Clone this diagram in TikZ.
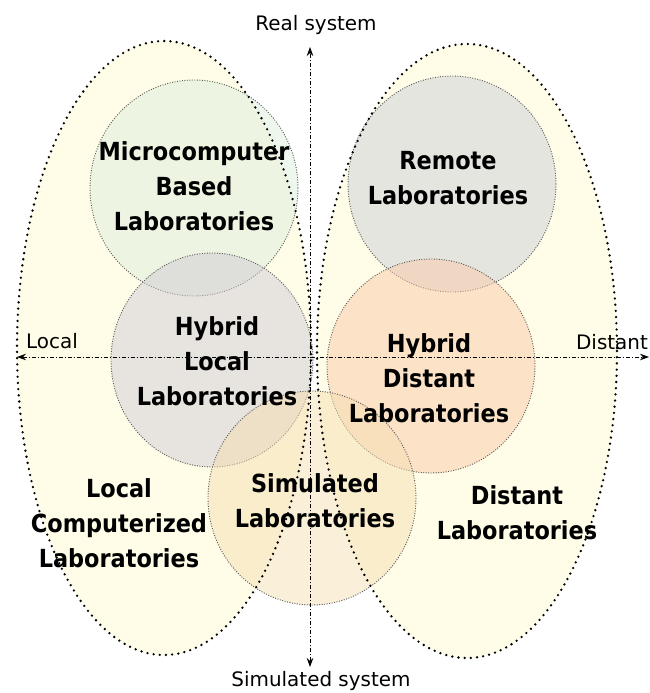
\documentclass[tikz,border=0pt]{standalone}
\usepackage{fontspec}
\setmainfont{DejaVu Sans}
\newfontfamily\condfont{DejaVuSansCondensed}[Extension=.ttf,BoldFont=DejaVuSansCondensed-Bold]
\usepackage{tikz}
\usetikzlibrary{positioning,arrows.meta}

\definecolor{zoneyellow}{RGB}{255,253,232}
\definecolor{microcol}{RGB}{221,239,222}
\definecolor{remotecol}{RGB}{205,207,218}
\definecolor{hlocalcol}{RGB}{209,203,214}
\definecolor{hdistcol}{RGB}{251,203,168}
\definecolor{simcol}{RGB}{245,223,178}

\begin{document}
\begin{tikzpicture}[x=1bp,y=-1bp,
		zone/.style={line width=2.6bp, line cap=round, dash pattern=on 0pt off 6.2bp},
		lab/.style={fill opacity=0.5, draw opacity=1, draw=black!65, line width=0.9bp, dash pattern=on 1bp off 1.5bp},
		labtext/.style={align=center, inner sep=0pt, font=\condfont\bfseries\fontsize{25}{35}\selectfont},
		axis/.style={line width=0.8bp, dash pattern=on 4bp off 2bp on 1bp off 2bp, {Stealth[length=9pt,width=6.5pt]}-{Stealth[length=9pt,width=6.5pt]}},
		axtext/.style={inner sep=0pt, font=\fontsize{20}{24}\selectfont}]
		\useasboundingbox (0,0) rectangle (650,693);
		
		% local and distant zones
		\fill[zoneyellow] (164,348) ellipse [x radius=147, y radius=307];
		\fill[zoneyellow] (467,351) ellipse [x radius=150, y radius=307];
		
		% laboratory circles
		\filldraw[lab, fill=microcol] (194,188) ellipse [x radius=104, y radius=108];
		\filldraw[lab, fill=remotecol] (452,184) ellipse [x radius=104, y radius=108];
		\filldraw[lab, fill=hlocalcol] (212,360) ellipse [x radius=101, y radius=107];
		\filldraw[lab, fill=hdistcol] (431,366) ellipse [x radius=104, y radius=107];
		\filldraw[lab, fill=simcol] (312,498) ellipse [x radius=104, y radius=107];
		
		\draw[zone] (164,348) ellipse [x radius=147, y radius=307];
		\draw[zone] (467,351) ellipse [x radius=150, y radius=307];
		
		% axes
		\coordinate (real) at (310,47);
		\coordinate (sim) at (310,667);
		\coordinate (loc) at (17,357);
		\coordinate (dist) at (649,357);
		\draw[axis] (sim)--(real);
		\draw[axis] (loc)--(dist);
		
		\node[axtext] (realtxt) at (316,25) {Real system};
		\node[axtext] (simtxt) at (321,681) {Simulated system};
		\node[axtext] (loctxt) at (52,341) {Local};
		\node[axtext] (disttxt) at (612,342) {Distant};
		
		\node[labtext] (micro) at (194,186) {Microcomputer\\Based\\Laboratories};
		\node[labtext] (remote) at (448,178) {Remote\\Laboratories};
		\node[labtext] (hlocal) at (217,361) {Hybrid\\Local\\Laboratories};
		\node[labtext] (hdist) at (429,378) {Hybrid\\Distant\\Laboratories};
		\node[labtext] (simlab) at (315,501) {Simulated\\Laboratories};
		\node[labtext] (lcomp) at (119,523) {Local\\Computerized\\Laboratories};
		\node[labtext] (dlab) at (517,513) {Distant\\Laboratories};
	\end{tikzpicture}
\end{document}
